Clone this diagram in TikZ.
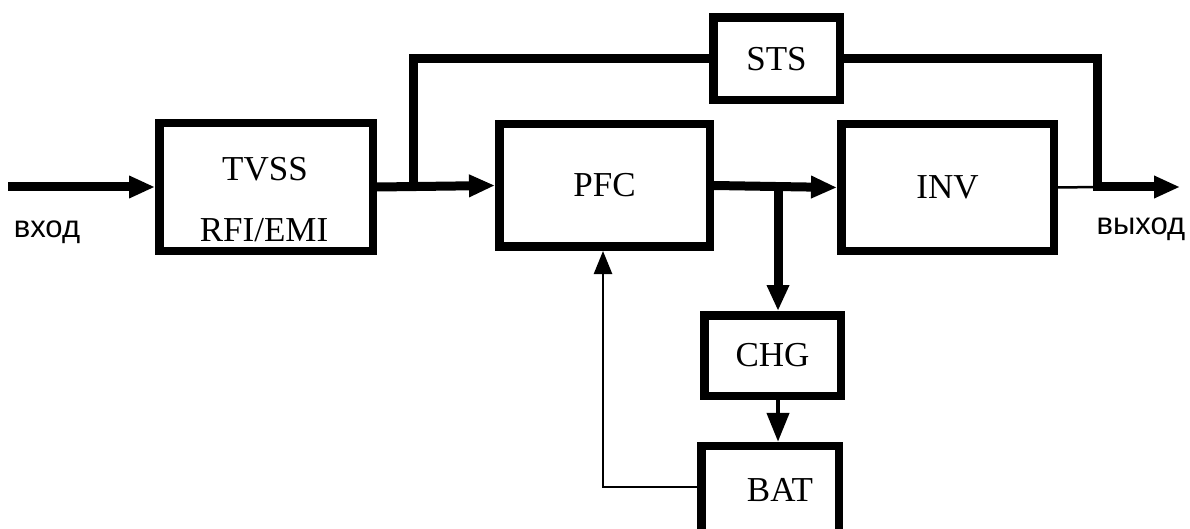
\documentclass[tikz,border=0pt]{standalone}
\usepackage{fontspec}
\setmainfont{Liberation Serif}
\newfontfamily\labelsans{Liberation Sans}
\usetikzlibrary{arrows.meta}
\begin{document}
\begin{tikzpicture}[x=1pt,y=-1pt,
  box/.style={draw, line width=8.5pt, inner sep=0pt, font=\fontsize{35}{40}\selectfont},
  boxtext/.style={inner sep=0pt, anchor=base, font=\fontsize{35}{40}\selectfont},
  iolabel/.style={inner sep=0pt, anchor=base, font=\labelsans\fontsize{31}{36}\selectfont},
  bigline/.style={line width=9pt},
  bigarrow/.style={line width=9pt, -{Triangle[length=26pt,width=21pt]}},
  midarrow/.style={line width=4.5pt, -{Triangle[length=29pt,width=22pt]}},
  thinline/.style={line width=2.5pt},
  thinarrow/.style={line width=2.5pt, -{Triangle[length=23pt,width=18pt]}}]
\path[use as bounding box, clip] (0,0) rectangle (1190,529);
\fill[white] (0,0) rectangle (1190,529);

% boxes
\node[box, minimum width=213.5pt, minimum height=127.5pt] (tvss) at (266,187) {};
\node[boxtext] (tvss1) at (265,181) {TVSS};
\node[boxtext] (tvss2) at (264,242) {RFI/EMI};
\node[box, minimum width=210.5pt, minimum height=122.5pt] (pfc) at (604.5,185.5) {PFC};
\node[box, minimum width=212.5pt, minimum height=126.5pt] (inv) at (947.5,187.5) {INV};
\node[box, minimum width=126.5pt, minimum height=82.5pt] (sts) at (776.5,59) {STS};
\node[box, minimum width=136.5pt, minimum height=80.5pt] (chg) at (772.5,355.5) {CHG};
\node[box, minimum width=137.5pt, minimum height=88pt] (bat) at (770,490) {\hspace*{20pt}BAT};

% labels
\node[iolabel] (in) at (47,237) {вход};
\node[iolabel] (out) at (1141,234) {выход};

% coordinates
\coordinate (src) at (8,187);
\coordinate (j1) at (413,187);
\coordinate (j2) at (778,187);
\coordinate (j3) at (1097,187);
\coordinate (dst) at (1180,187);
\coordinate (fb) at (603,487);

% connectors
\draw[bigarrow] (src) -- (tvss.west);
\draw[bigarrow] (tvss.east) -- (pfc.west);
\draw[bigline] (j1) |- (sts.west);
\draw[bigarrow] (sts.east) -| (j3) -- (dst);
\draw[thinline] (inv.east) -- (j3);
\draw[bigarrow] (pfc.east) -- (inv.west);
\draw[bigarrow] (j2) -- (j2 |- chg.north);
\draw[midarrow] (chg.south -| j2) -- (bat.north -| j2);
\draw[thinarrow] (bat.west |- fb) -- (fb) -- (fb |- pfc.south);
\end{tikzpicture}
\end{document}
